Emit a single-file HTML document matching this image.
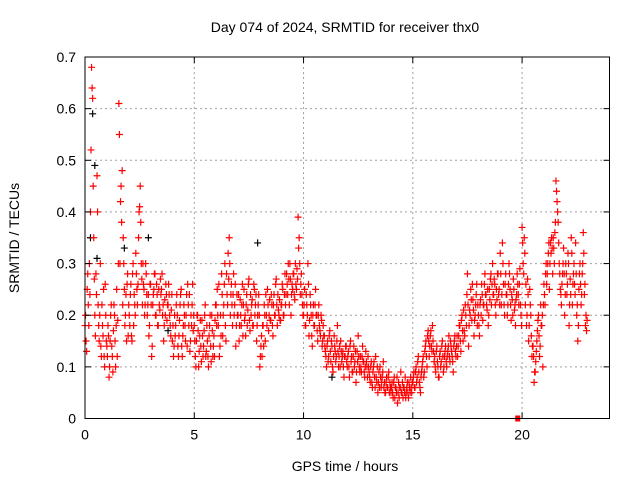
<!DOCTYPE html>
<html><head><meta charset="utf-8"><style>
body{margin:0;background:#fff}
svg{display:block;font-family:"Liberation Sans",sans-serif}
</style></head><body>
<svg id="c" width="640" height="480">
<text x="345" y="32" text-anchor="middle" font-size="14">Day 074 of 2024, SRMTID for receiver thx0</text>
<text x="345" y="471" text-anchor="middle" font-size="14">GPS time / hours</text>
<text transform="translate(19,238) rotate(-90)" text-anchor="middle" font-size="14">SRMTID / TECUs</text>
<g id="grid"></g><g id="marks"></g><g id="axes"></g>
</svg>
<script>
const xTicks=[0,5,10,15,20];
const yTicks=[0,0.1,0.2,0.3,0.4,0.5,0.6,0.7];
const yTickLabels=["0","0.1","0.2","0.3","0.4","0.5","0.6","0.7"];
const step=0.05;
const redHundredths=[
18,15,25,22,30,40,68,62,35,20,28,47,22,15,30,12,18,25,10,20,
14,18,8,15,22,12,17,20,10,25,19,61,30,45,48,35,25,20,15,28,
22,18,26,15,30,24,20,28,22,35,41,38,27,30,25,22,28,20,24,18,
26,12,22,25,28,20,24,18,22,27,25,20,15,23,26,19,22,24,18,21,
15,12,20,18,24,14,16,22,25,12,18,20,15,24,26,18,13,20,22,17,
18,12,15,20,10,16,14,19,12,17,22,13,15,10,18,14,20,12,16,19,
22,25,18,12,20,28,16,22,30,15,24,32,35,20,26,18,28,22,14,24,
20,15,23,18,26,22,19,16,24,21,27,17,20,23,18,25,22,15,20,24,
10,14,12,18,22,15,20,25,17,23,19,22,16,24,20,27,18,21,23,19,
22,25,20,28,24,26,30,22,27,24,25,28,23,26,29,39,35,24,28,22,
20,25,18,22,30,16,24,20,14,22,18,25,20,15,22,17,20,14,18,16,
13,10,15,12,17,11,14,9,16,13,12,18,10,14,15,11,13,8,12,14,
10,13,8,15,12,9,14,11,7,13,16,10,12,9,14,11,8,13,10,12,
9,7,11,6,10,8,12,7,5,9,10,6,8,11,7,5,8,6,9,7,
5,7,4,8,6,5,3,7,6,9,5,4,6,8,5,7,4,6,8,5,
7,9,6,10,8,12,7,5,9,11,8,13,15,10,17,12,16,14,18,13,
12,9,14,10,8,13,11,15,9,12,14,10,13,16,11,14,12,9,15,13,
14,12,16,18,13,20,15,17,22,18,28,14,21,25,19,23,16,20,24,18,
20,16,23,26,19,22,28,24,21,18,25,27,22,30,24,26,20,23,28,25,
32,22,34,26,20,28,24,22,30,25,19,23,27,21,18,24,26,22,29,20,
37,30,35,22,18,27,15,25,20,12,14,7,9,13,17,20,12,22,18,10,
26,22,30,28,32,25,34,35,28,33,36,46,42,38,30,25,22,28,33,20,
30,24,32,18,27,35,22,28,26,34,20,15,25,30,22,28,36,24,18,17];
const red2Hundredths=[
20,13,28,18,24,52,64,45,27,16,24,40,18,20,14,22,16,12,26,15,
12,16,10,20,14,9,22,15,18,12,30,55,42,38,22,30,18,24,26,16,
20,24,16,28,18,22,32,25,26,40,45,30,22,26,20,30,24,22,16,26,
22,14,24,28,20,26,18,25,21,24,28,22,18,20,24,22,26,20,16,24,
18,14,16,22,20,12,19,24,14,16,22,18,20,14,22,24,15,18,26,20,
15,10,20,17,13,19,11,16,14,20,12,18,12,16,20,11,17,14,12,22,
18,20,26,14,16,24,20,26,18,28,22,27,30,24,22,24,20,26,18,20,
24,18,20,22,16,25,20,22,18,26,19,24,22,18,26,20,24,18,22,20,
12,16,18,14,20,24,18,22,20,19,24,18,22,20,26,22,24,20,19,22,
26,20,24,22,28,24,27,30,20,26,28,24,30,25,27,33,30,26,24,20,
22,18,24,20,26,19,22,16,20,18,22,20,17,20,18,16,19,15,16,14,
12,14,11,16,13,15,10,12,14,11,15,13,12,10,13,12,10,12,14,11,
12,10,14,11,9,12,10,13,9,11,12,9,10,12,11,9,10,11,8,10,
8,10,7,9,11,6,8,10,7,6,8,7,9,6,5,7,6,8,5,6,
6,5,7,4,6,8,5,4,6,5,7,6,5,4,6,5,7,5,6,7,
8,6,9,7,11,9,6,8,10,12,9,14,12,16,15,14,17,13,15,11,
10,13,11,8,12,10,14,12,10,13,11,12,14,12,15,13,11,14,16,12,
16,14,18,15,19,17,21,16,20,24,22,18,20,23,26,21,19,22,26,22,
18,22,20,24,22,26,24,22,25,20,23,28,26,24,27,22,25,28,24,22,
28,24,30,22,26,24,20,26,28,22,24,20,25,22,23,28,24,26,22,18,
34,28,32,26,20,24,18,22,16,14,12,9,11,15,19,16,14,18,20,22,
24,28,26,30,34,30,32,33,35,30,38,44,40,34,28,24,26,30,28,24,
28,26,30,22,24,32,26,30,24,28,22,18,28,26,24,30,32,26,20,19];
const blackTimes=[0.25,0.35,0.45,0.55,1.8,2.9,3.8,7.9,11.3];
const blackValues=[0.35,0.59,0.49,0.31,0.33,0.35,0.17,0.34,0.08];
const zeroTimes=[19.8];
const zeroValues=[0];
const X0=85,X1=609.5,Y0=418.5,Y1=57,XMAX=24,YMAX=0.7;
const sx=t=>X0+(X1-X0)*t/XMAX, sy=v=>Y0-(Y0-Y1)*v/YMAX;
const NS="http://www.w3.org/2000/svg";
function mk(tag,attrs,parent){const e=document.createElementNS(NS,tag);for(const k in attrs)e.setAttribute(k,attrs[k]);parent.appendChild(e);return e;}
const grid=document.getElementById('grid'),marks=document.getElementById('marks'),axes=document.getElementById('axes');
xTicks.forEach(t=>{const x=sx(t);
 if(t>0){const g=mk('line',{x1:x,x2:x,y1:Y1,y2:Y0,stroke:'#a0a0a0','stroke-dasharray':'2,3'},grid);
 
 }
 mk('line',{x1:x,x2:x,y1:Y0,y2:Y0-6,stroke:'#000'},axes);
 mk('line',{x1:x,x2:x,y1:Y1,y2:Y1+6,stroke:'#000'},axes);
 const l=mk('text',{x:x,y:Y0+21,'text-anchor':'middle','font-size':14},axes);l.textContent=t;
 
 
});
yTicks.forEach((v,i)=>{const y=sy(v);
 if(i>0&&i<yTicks.length-1){const g=mk('line',{x1:X0,x2:X1,y1:y,y2:y,stroke:'#a0a0a0','stroke-dasharray':'2,3'},grid);
 
 }
 mk('line',{x1:X0,x2:X0+6,y1:y,y2:y,stroke:'#000'},axes);
 mk('line',{x1:X1,x2:X1-6,y1:y,y2:y,stroke:'#000'},axes);
 const l=mk('text',{x:X0-9,y:y+5,'text-anchor':'end','font-size':14},axes);l.textContent=yTickLabels[i];
 
 
});
const fr=mk('rect',{x:X0,y:Y1,width:X1-X0,height:Y0-Y1,fill:'none',stroke:'#000'},axes);


function plus(t,v,col){const x=sx(t),y=sy(v);
 const p=mk('path',{d:`M${x-3.5},${y}h7M${x},${y-3.5}v7`,stroke:col,'stroke-width':1.2,fill:'none'},marks);
 
 }
blackTimes.forEach((t,i)=>plus(t,blackValues[i],'#000'));
redHundredths.forEach((h,i)=>plus(i*step,h/100,'#f00'));
red2Hundredths.forEach((h,i)=>plus(i*step+0.025,h/100,'#f00'));
zeroTimes.forEach((t,i)=>{const r=mk('rect',{x:sx(t)-2.5,y:sy(zeroValues[i])-3,width:5,height:6,fill:'#f00'},marks);
 
 });
</script>
</body></html>
